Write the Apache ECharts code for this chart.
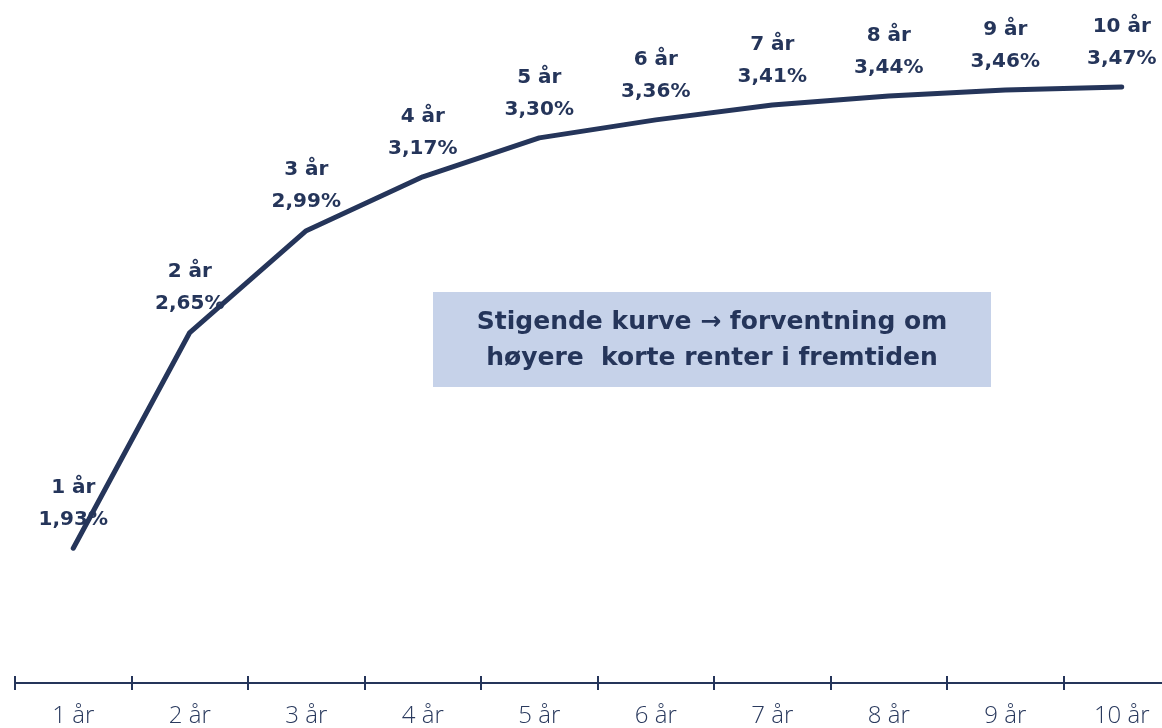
<!DOCTYPE html>
<html>
<head>
<meta charset="utf-8">
<title>Rentekurve</title>
<script src="https://cdn.jsdelivr.net/npm/echarts@6/dist/echarts.min.js"></script>
<style>
  html, body { margin: 0; padding: 0; background: #ffffff; }
  #chart { width: 1162px; height: 728px; }
</style>
</head>
<body>
<div id="chart"></div>
<script>
// Løpetider og renter (avkastningskurve)
const categories = ['1 år', '2 år', '3 år', '4 år', '5 år', '6 år', '7 år', '8 år', '9 år', '10 år'];
const rates = [1.93, 2.65, 2.99, 3.17, 3.30, 3.36, 3.41, 3.44, 3.46, 3.47];
const noteLines = ['Stigende kurve \u2192 forventning om', 'høyere  korte renter i fremtiden'];

const navy = '#25355a';
const fontFamily = '"Open Sans", Lato, "Noto Sans", sans-serif';
const boldFamily = '"DejaVu Sans", "Open Sans", sans-serif';

const chart = echarts.init(document.getElementById('chart'), null, { renderer: 'canvas' });

const fmtRate = v => v.toFixed(2).replace('.', ',') + '%';

chart.setOption({
  backgroundColor: '#ffffff',
  animation: false,
  grid: { left: 15, top: 48, width: 1165, height: 635, outerBoundsMode: 'none', containLabel: false },
  xAxis: [
    {
      type: 'category',
      data: categories,
      boundaryGap: true,
      position: 'bottom',
      axisLine: { show: true, lineStyle: { color: navy, width: 2 } },
      axisTick: { show: true, length: 7, lineStyle: { color: navy, width: 2 } },
      axisLabel: {
        color: '#2a3a5e',
        fontFamily: fontFamily,
        fontSize: 24,
        fontWeight: 300,
        margin: 21
      },
      splitLine: { show: false }
    },
    {
      // inner half of the tick marks, so ticks cross the axis line
      type: 'category',
      data: categories,
      boundaryGap: true,
      position: 'bottom',
      axisLine: { show: false },
      axisTick: { show: true, inside: true, length: 7, lineStyle: { color: navy, width: 2 } },
      axisLabel: { show: false },
      splitLine: { show: false }
    }
  ],
  yAxis: {
    type: 'value',
    min: 1.48,
    max: 3.6,
    show: false,
    splitLine: { show: false }
  },
  series: [
    {
      type: 'line',
      data: rates,
      xAxisIndex: 0,
      symbol: 'circle',
      symbolSize: 1,
      showSymbol: true,
      itemStyle: { color: 'rgba(0,0,0,0)', borderWidth: 0 },
      lineStyle: { color: navy, width: 5, cap: 'round', join: 'round' },
      label: {
        show: true,
        position: 'top',
        distance: 12,
        color: navy,
        fontFamily: boldFamily,
        fontSize: 20,
        fontWeight: 'bold',
        lineHeight: 32,
        align: 'center',
        formatter: p => categories[p.dataIndex] + '\n' + fmtRate(p.value)
      },
      labelLayout: { hideOverlap: false }
    }
  ],
  graphic: [
    {
      type: 'group',
      left: 433,
      top: 292,
      children: [
        {
          type: 'rect',
          shape: { x: 0, y: 0, width: 558, height: 95 },
          style: { fill: '#c6d2e9' }
        },
        {
          type: 'text',
          x: 279,
          y: 48,
          style: {
            text: noteLines.join('\n'),
            fill: navy,
            font: 'bold 25px ' + boldFamily,
            lineHeight: 36,
            align: 'center',
            verticalAlign: 'middle'
          }
        }
      ]
    }
  ]
});
</script>
</body>
</html>
